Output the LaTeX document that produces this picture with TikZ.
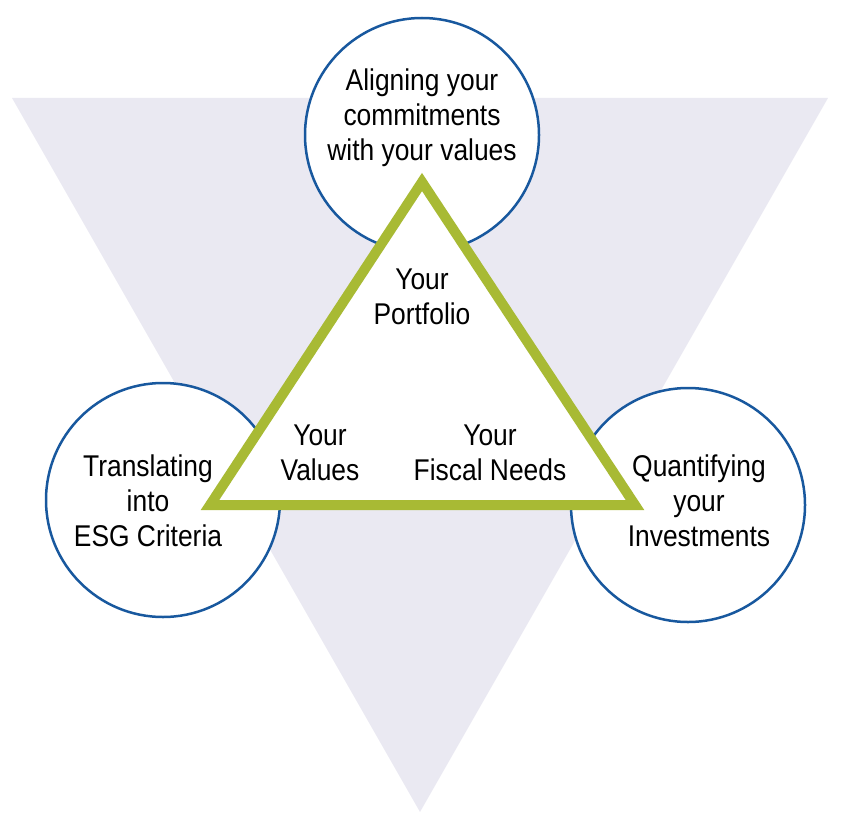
\documentclass[tikz,border=0pt]{standalone}
\usepackage{fontspec}
\setmainfont[FakeStretch=0.88]{Liberation Sans}
\begin{document}
\begin{tikzpicture}[x=1pt,y=-1pt,
  lbl/.style={align=center, font=\fontsize{30}{35}\selectfont, text=black}]
\useasboundingbox (0,0) rectangle (848,837);
\fill[fill={rgb,255:red,234;green,233;blue,242}] (12,98) -- (828,98) -- (420,812) -- cycle;
\draw[draw={rgb,255:red,24;green,88;blue,158}, line width=2.5pt, fill=white] (422,135) circle (117) node (top) {};
\draw[draw={rgb,255:red,24;green,88;blue,158}, line width=2.5pt, fill=white] (163,500) circle (117) node (left) {};
\draw[draw={rgb,255:red,24;green,88;blue,158}, line width=2.5pt, fill=white] (688,505) circle (117) node (right) {};
\draw[draw={rgb,255:red,168;green,186;blue,52}, line width=10pt, fill=white, line join=miter] (422,182) -- (635,505) -- (210,505) -- cycle;
\node[lbl] (t1) at (422,118) {Aligning your\\commitments\\with your values};
\node[lbl] (t2) at (148,501) {Translating\\into\\ESG Criteria};
\node[lbl] (t3) at (699,501) {Quantifying\\your\\Investments};
\node[lbl] (p) at (422,297) {Your\\Portfolio};
\node[lbl] (v) at (320,453) {Your\\Values};
\node[lbl] (f) at (490,453) {Your\\Fiscal Needs};
\end{tikzpicture}
\end{document}
